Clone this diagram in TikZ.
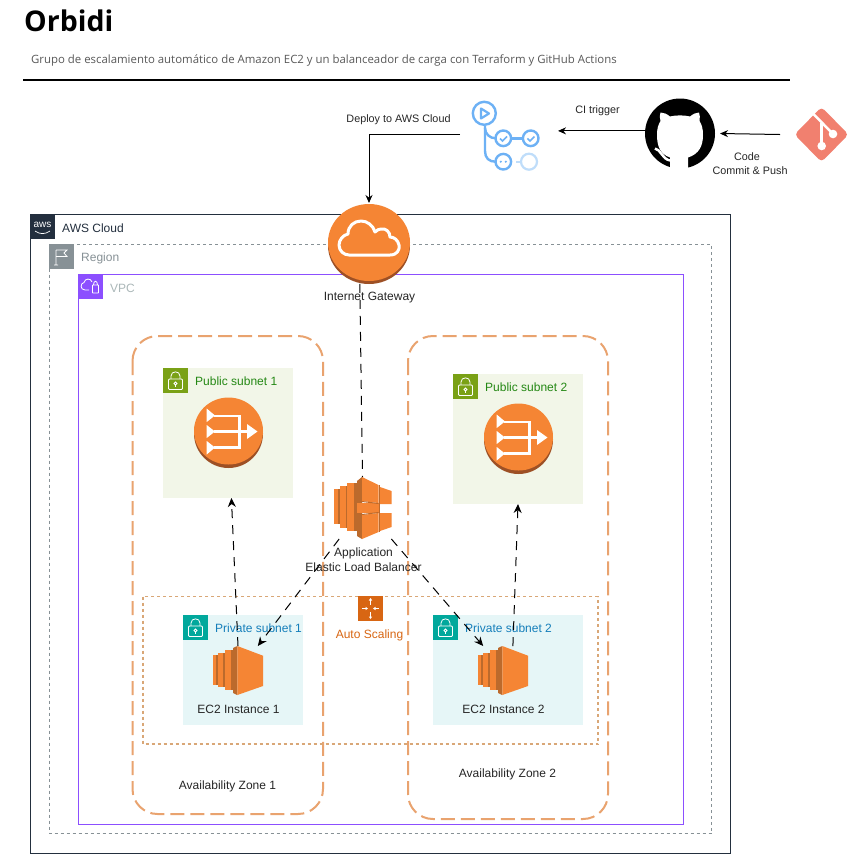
\documentclass[tikz,border=0pt]{standalone}
\usepackage{fontspec}
\setmainfont{Liberation Sans}
\newfontfamily\headfont{Open Sans}
\usetikzlibrary{arrows.meta,calc}
\definecolor{awsorange}{HTML}{F58534}
\definecolor{awsdark}{HTML}{9D5025}
\definecolor{awsmid}{HTML}{BC6A2C}
\definecolor{azline}{HTML}{E9A36F}
\definecolor{asline}{HTML}{D9A777}
\definecolor{asorange}{HTML}{D86613}
\definecolor{ghblue}{HTML}{6DB1F5}
\definecolor{ghfade}{HTML}{BFDDFA}
\definecolor{gitred}{HTML}{F1806F}
\definecolor{vpcpurple}{HTML}{8C4FFF}
\definecolor{pubfill}{HTML}{F2F6E8}
\definecolor{privfill}{HTML}{E6F6F7}
\definecolor{pubgreen}{HTML}{7AA116}
\definecolor{privteal}{HTML}{01A89C}
\definecolor{pubtext}{HTML}{248814}
\definecolor{privtext}{HTML}{147EBA}
\definecolor{awsnavy}{HTML}{232F3E}
\definecolor{regiongray}{HTML}{879196}
\definecolor{vpctext}{HTML}{AAB7B8}
\tikzset{
  box/.style={draw=none,inner sep=0pt,outer sep=0pt,minimum width=#1},
  lbl/.style={inner sep=0pt,font=\fontsize{12}{14.5}\selectfont,align=center,text=black!85},
  smalllbl/.style={inner sep=0pt,font=\fontsize{10.8}{14}\selectfont,align=center,text=black!85},
  flow/.style={draw=black,line width=1pt,-{Stealth[length=8pt,width=7pt]}},
  dashflow/.style={draw=black,line width=1pt,dash pattern=on 9pt off 7pt,-{Stealth[length=9pt,width=8pt]}},
  dashplain/.style={draw=black,line width=1pt,dash pattern=on 9pt off 7pt},
  azbox/.style={draw=azline,line width=2pt,rounded corners=25pt,dash pattern=on 14pt off 6pt},
  iconw/.style={draw=white,line width=.8pt,fill=none},
  lockbody/.style={draw=white,line width=.8pt,rounded corners=1pt},
}
% lock icon, top-left at #1,#2, background #3
\newcommand{\lockicon}[3]{%
  \begin{scope}[shift={(#1,#2)}]
    \fill[#3] (0,0) rectangle (25,25);
    \draw[lockbody] (5.5,11) rectangle (19.5,21.5);
    \draw[iconw] (8,11) -- (8,8) .. controls (8,2.5) and (17,2.5) .. (17,8) -- (17,11);
    \draw[iconw] (12.5,15.5) circle[radius=1.5pt];
    \draw[iconw] (12.5,17) -- (12.5,19);
  \end{scope}}
% NAT gateway icon, offset from first instance
\newcommand{\naticon}[2]{%
  \begin{scope}[shift={(#1,#2)}]
    \fill[awsdark] (228.5,433.5) ellipse[x radius=34.5pt,y radius=34.5pt];
    \fill[awsorange] (228.5,431) ellipse[x radius=34.5pt,y radius=33.5pt];
    \fill[white] (206.7,408.5) -- (215,415.5) -- (206.7,422) -- cycle;
    \fill[white] (206.7,425) -- (215,431.5) -- (206.7,438) -- cycle;
    \fill[white] (206.7,441) -- (215,447.5) -- (206.7,454.5) -- cycle;
    \draw[white,line width=2.6pt] (214,416) -- (239.5,416) -- (239.5,447.5) -- (214,447.5);
    \draw[white,line width=2.6pt] (214,431.5) -- (248,431.5);
    \fill[white] (247,424) -- (257.5,431.5) -- (247,439) -- cycle;
  \end{scope}}
% EC2 icon, offset from first instance
\newcommand{\ectwoicon}[1]{%
  \begin{scope}[shift={(#1,0)}]
    \fill[awsmid] (213,655) rectangle (218,684.5);
    \fill[awsorange] (213,655) rectangle (216.3,684.5);
    \fill[awsmid] (218,652.7) rectangle (225,687);
    \fill[awsorange] (218,652.7) rectangle (223,687);
    \fill[awsmid] (225,650) rectangle (233,690);
    \fill[awsorange] (225,650) rectangle (231,690);
    \fill[awsmid] (233,648) -- (237.3,646) -- (237.3,695) -- (233,693) -- cycle;
    \fill[awsorange] (237.3,646) -- (263,655.7) -- (263,686) -- (237.3,695) -- cycle;
  \end{scope}}
\begin{document}
\begin{tikzpicture}[x=1pt,y=-1pt]
\useasboundingbox (0,0) rectangle (861,855);
\fill[white] (0,0) rectangle (861,855);

% heading
\node[anchor=base west,inner sep=0pt,font=\headfont\bfseries\fontsize{28.5}{32}\selectfont] (title) at (24,31) {Orbidi};
\node[anchor=base west,inner sep=0pt,text=black!65,font=\headfont\fontsize{11.4}{14}\selectfont] (subtitle) at (31,63) {Grupo de escalamiento automático de Amazon EC2 y un balanceador de carga con Terraform y GitHub Actions};
\draw[line width=2pt] (23,80) -- (790,80);

% containers
\draw[draw=awsnavy,line width=1pt] (30.5,214.5) rectangle (730.5,853.5);
\draw[draw=regiongray,line width=1pt,dash pattern=on 3pt off 3pt] (49.5,244.5) rectangle (711.5,833.5);
\draw[draw=vpcpurple,line width=1pt] (78.5,274.5) rectangle (683,824);
\draw[azbox] (132.5,336) rectangle (323,814);
\draw[azbox] (408,336) rectangle (608,819);

\node[box=130pt,minimum height=130pt,fill=pubfill] (pubA) at (228,433) {};
\node[box=130pt,minimum height=130pt,fill=pubfill] (pubB) at (518,439) {};
\node[box=120pt,minimum height=110pt,fill=privfill] (privA) at (243,670) {};
\node[box=150pt,minimum height=110pt,fill=privfill] (privB) at (508,670) {};
\draw[draw=asline,line width=1.5pt,dash pattern=on 3pt off 3pt] (143,596.5) rectangle (598,744);

% AWS logo
\fill[awsnavy] (30,214) rectangle (55,239);
\node[inner sep=0pt,text=white,font=\fontsize{10}{10}\selectfont] (awslogo) at (42.5,224.5) {aws};
\draw[white,line width=.7pt] (35,231) .. controls (40,234.5) and (45,234.5) .. (50,231);
\node[anchor=west,inner sep=0pt,font=\fontsize{12}{14}\selectfont,text=awsnavy] (cloudlbl) at (62,228) {AWS Cloud};

% Region
\fill[regiongray] (49,244) rectangle (74,269);
\draw[iconw] (56,250) -- (56,265) (54,265) -- (58,265) (56,250) -- (67,250) -- (64,253) -- (67,256.5) -- (56,256.5);
\node[anchor=west,inner sep=0pt,font=\fontsize{12}{14}\selectfont,text=regiongray] (regionlbl) at (81,258) {Region};

% VPC
\fill[vpcpurple] (78,274) rectangle (103,299);
\draw[iconw] (89,290) -- (85,290) .. controls (80,290) and (80,283) .. (84,282.5) .. controls (85,278) and (91,278) .. (92,282);
\draw[iconw,rounded corners=.5pt] (92.5,285) rectangle (98.5,293);
\draw[iconw] (93.5,285) .. controls (93.5,280) and (97.5,280) .. (97.5,285);
\node[anchor=west,inner sep=0pt,font=\fontsize{12}{14}\selectfont,text=vpctext] (vpclbl) at (110,288) {VPC};

% subnet headers
\lockicon{163}{368}{pubgreen}
\lockicon{453}{374}{pubgreen}
\lockicon{183}{615}{privteal}
\lockicon{433}{615}{privteal}
\node[anchor=west,inner sep=0pt,font=\fontsize{12}{14}\selectfont,text=pubtext] (pubAlbl) at (195,381) {Public subnet 1};
\node[anchor=west,inner sep=0pt,font=\fontsize{12}{14}\selectfont,text=pubtext] (pubBlbl) at (485,387) {Public subnet 2};
\node[anchor=west,inner sep=0pt,font=\fontsize{12}{14}\selectfont,text=privtext] (privAlbl) at (215,628.5) {Private subnet 1};
\node[anchor=west,inner sep=0pt,font=\fontsize{12}{14}\selectfont,text=privtext] (privBlbl) at (465,628.5) {Private subnet 2};

% NAT icons
\naticon{0}{0}
\naticon{290}{6}

% Auto scaling
\fill[asorange] (358,596) rectangle (383,621);
\draw[white,line width=.7pt] (370.5,599) -- (370.5,605) (370.5,612) -- (370.5,618) (362,608.5) -- (367,608.5) (374,608.5) -- (379,608.5);
\fill[white] (370.5,598) -- (368.8,600.5) -- (372.2,600.5) -- cycle;
\fill[white] (370.5,619) -- (368.8,616.5) -- (372.2,616.5) -- cycle;
\fill[white] (368,608.5) -- (365.5,606.8) -- (365.5,610.2) -- cycle;
\fill[white] (373,608.5) -- (375.5,606.8) -- (375.5,610.2) -- cycle;
\node[inner sep=0pt,font=\fontsize{12}{14}\selectfont,text=asorange] (aslbl) at (369.5,635) {Auto Scaling};

% EC2
\ectwoicon{0}
\ectwoicon{265}
\node[box=50pt,minimum height=49pt] (ecA) at (238,670.5) {};
\node[box=50pt,minimum height=49pt] (ecB) at (503,670.5) {};
\node[lbl] (ecAlbl) at (238.5,709) {EC2 Instance 1};
\node[lbl] (ecBlbl) at (503.5,709) {EC2 Instance 2};

% ELB
\node[box=59pt,minimum height=62pt] (elb) at (362.5,508) {};
\fill[awsmid] (334,489) rectangle (340,524);
\fill[awsorange] (334,489) rectangle (338,524);
\fill[awsmid] (340,486) rectangle (347.3,527.5);
\fill[awsorange] (340,486) rectangle (345.5,527.5);
\fill[awsmid] (347.3,483) rectangle (357,531);
\fill[awsorange] (347.3,483) rectangle (353.5,531);
\fill[awsmid] (357,481) -- (362,477) -- (362,539) -- (357,536) -- cycle;
\fill[awsorange] (357,503) rectangle (379,513);
\fill[awsorange] (362,477) -- (378.5,485) -- (378.5,503) -- (362,501) -- cycle;
\fill[awsorange] (362,515) -- (378.5,513) -- (378.5,532) -- (362,539) -- cycle;
\draw[awsmid,line width=1pt] (358,501) -- (378.5,503.5);
\draw[awsmid,line width=1pt] (358,515) -- (378.5,512.5);
\fill[awsmid] (378.5,485) rectangle (380,532);
\fill[awsorange] (380,487) -- (391.5,491) -- (391.5,504) -- (380,504) -- cycle;
\fill[awsorange] (380,513) -- (391.5,513) -- (391.5,527) -- (380,531) -- cycle;
\node[lbl] (elblbl) at (363.5,559.5) {Application\\Elastic Load Balancer};

% Internet gateway
\node[circle,minimum size=82pt,inner sep=0pt,outer sep=0pt] (igw) at (369,244) {};
\fill[awsdark] (369,245.5) ellipse[x radius=41pt,y radius=38.5pt];
\fill[awsorange] (369,242.5) ellipse[x radius=41pt,y radius=38.5pt];
\draw[white,line width=3pt,line join=round] (349,255) -- (390,255) .. controls (397,255) and (400,250) .. (399,245) .. controls (398,240) and (394,237) .. (390,237) .. controls (390,232) and (386,228) .. (381,229) .. controls (379,229) and (377,230) .. (375,232) .. controls (373,225) and (367,221) .. (361,221) .. controls (354,221) and (348,226) .. (348,234) .. controls (343,235) and (339,240) .. (339,245) .. controls (339,251) and (344,255) .. (349,255) -- cycle;
\node[lbl] (igwlbl) at (369.5,298) {Internet Gateway};

% GitHub Actions
\node[box=98pt,minimum height=88pt] (actions) at (509,134) {};
\draw[ghfade,line width=2.2pt] (522,161.7) -- (516,161.7);
\draw[ghfade,line width=2.2pt] (529,161.7) circle[radius=8pt];
\draw[ghblue,line width=2.4pt] (485,125.5) -- (485,151) .. controls (485,158) and (489,161.7) .. (495.5,161.7);
\draw[ghblue,line width=2.4pt] (485,128) .. controls (485,134) and (490,138.3) .. (495.5,138.3);
\draw[ghblue,line width=2.4pt] (511,138.3) -- (523,138.3);
\draw[ghblue,line width=2.4pt] (484.3,113.3) circle[radius=11.5pt];
\draw[ghblue,line width=2.2pt,line join=round] (481,108.5) -- (489,113.5) -- (481,118.5) -- cycle;
\draw[ghblue,line width=2.4pt] (503.3,138.3) circle[radius=7.8pt];
\draw[ghblue,line width=2.4pt] (530.7,138.3) circle[radius=7.8pt];
\draw[ghblue,line width=2.4pt] (503.3,161.7) circle[radius=7.8pt];
\draw[ghblue,line width=1.6pt] (500,138.5) -- (502.5,141) -- (507,136.5);
\draw[ghblue,line width=1.6pt] (527.4,138.5) -- (529.9,141) -- (534.4,136.5);
\fill[ghblue] (500.8,161.7) circle[radius=1.2pt] (505.8,161.7) circle[radius=1.2pt];

% GitHub
\node[box=75pt,minimum height=72pt] (github) at (682.5,133.5) {};
\fill[black] (680,133.5) circle[radius=35pt];
\fill[white] (670,170) -- (670,157.5) .. controls (660,154) and (657,146) .. (657,135) .. controls (657,129) and (658,125) .. (660.5,121) .. controls (659.5,118) and (659.5,115) .. (660.5,112.5) .. controls (664,112.5) and (667,114) .. (670,116.5) .. controls (676,115) and (684,115) .. (690,116.5) .. controls (693,114) and (696,112.5) .. (699,112.5) .. controls (700,115) and (700,118) .. (699.5,121) .. controls (702,125) and (703,129) .. (703,135) .. controls (703,146) and (699,154) .. (688,157.5) -- (688,170) -- cycle;
\draw[white,line width=2.5pt] (655,148.5) .. controls (661,149.5) and (662,159) .. (670,160.5);

% Git
\node[box=83pt,minimum height=56pt] (git) at (821.5,134.5) {};
\fill[gitred,rounded corners=4pt] (821.5,107) -- (848.5,134.5) -- (821.5,162) -- (794.5,134.5) -- cycle;
\draw[white,line width=2.5pt] (812.5,113) -- (833,134);
\draw[white,line width=2.5pt] (821.7,123) -- (821.7,146);
\fill[white] (833,134) circle[radius=4.3pt] (821.7,146) circle[radius=4.3pt];

% labels on top row
\node[smalllbl] (deploylbl) at (398.5,120) {Deploy to AWS Cloud};
\node[smalllbl] (cilbl) at (597.5,111) {CI trigger};
\node[smalllbl] (codelbl) at (750,164) {\hspace*{-6pt}Code\\Commit \& Push};
\node[lbl] (azAlbl) at (227.5,786) {Availability Zone 1};
\node[lbl] (azBlbl) at (507.5,774) {Availability Zone 2};

% connectors
\draw[flow] (actions.west) -| (igw.north);
\draw[flow] (github.176) -- (github.176 -| actions.east);
\draw[flow] (git.west) -- (github.east);
\draw[dashplain] (igw.257) -- (elb.north);
\draw[dashflow] (ecA.north) -- (pubA.273);
\draw[dashflow] (ecB.68) -- (pubB.south);
\draw[dashflow] (elb.233) -- (ecA.51);
\draw[dashflow] (elb.-47) -- (ecB.129);
\end{tikzpicture}
\end{document}
